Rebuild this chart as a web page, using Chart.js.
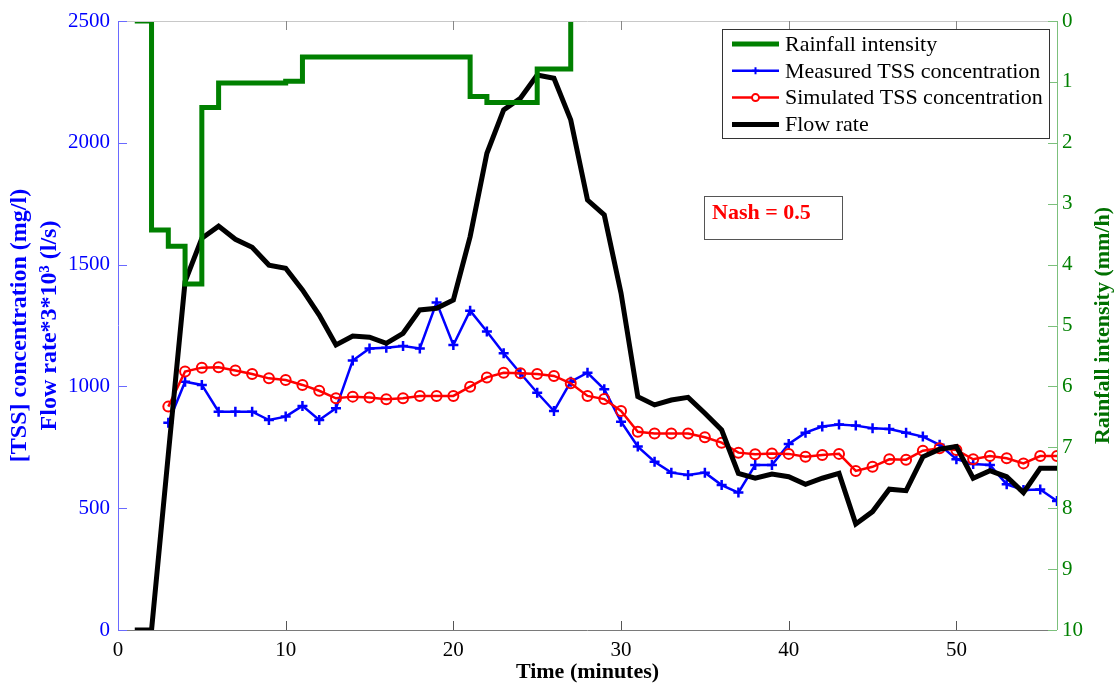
<!DOCTYPE html>
<html>
<head>
<meta charset="utf-8">
<script src="https://cdn.jsdelivr.net/npm/chart.js@4.4.1/dist/chart.umd.min.js"></script>
<style>
  html, body { margin: 0; padding: 0; background: #fff; }
  #wrap { width: 1119px; height: 689px; position: relative; }
</style>
</head>
<body>
<div id="wrap"><canvas id="tssChart"></canvas></div>
<script>
// Rainfall intensity (mm/h), one value per minute from minute 1
const rainStart = 1;
const rainfall = [0, 3.43, 3.7, 4.32, 1.42, 1.02, 1.02, 1.02, 1.02, 0.99,
  0.59, 0.59, 0.59, 0.59, 0.59, 0.59, 0.59, 0.59, 0.59, 0.59,
  1.24, 1.34, 1.34, 1.34, 0.79, 0.79, 0];

// Flow rate (scaled by 3*10^3), one value per minute from minute 1
const flowStart = 1;
const flowRate = [0, 0, 720, 1430, 1608, 1658, 1604, 1571, 1498, 1485,
  1396, 1293, 1170, 1207, 1202, 1177, 1218, 1314, 1321, 1355,
  1615, 1957, 2135, 2183, 2278, 2265, 2094, 1765, 1704, 1383,
  958, 924, 944, 955, 890, 821, 643, 623, 640, 629,
  598, 623, 643, 435, 486, 578, 572, 711, 742, 753,
  623, 654, 629, 564, 664, 664];

// TSS concentrations (mg/l), one value per minute from minute 3
const tssStart = 3;
const measuredTss = [851, 1019, 1006, 896, 896, 896, 862, 876, 920, 862,
  910, 1106, 1156, 1159, 1166, 1156, 1344, 1170, 1311, 1225,
  1136, 1054, 974, 899, 1019, 1056, 988, 855, 753, 691,
  646, 636, 646, 595, 564, 677, 677, 764, 810, 835,
  844, 839, 828, 825, 810, 794, 760, 701, 681, 677,
  598, 575, 577, 530];
const simulatedTss = [917, 1061, 1077, 1079, 1065, 1051, 1033, 1026, 1006, 982,
  951, 958, 954, 947, 951, 961, 961, 961, 999, 1037,
  1056, 1054, 1051, 1043, 1013, 961, 948, 899, 814, 807,
  807, 807, 791, 769, 728, 721, 725, 723, 711, 718,
  723, 653, 670, 701, 699, 736, 746, 739, 701, 714,
  705, 684, 714, 714];

const nashValue = 0.5;

const serif = "'Liberation Serif', 'Times New Roman', serif";
Chart.defaults.font.family = serif;

function toPoints(values, start) {
  return values.map((v, i) => ({ x: start + i, y: v }));
}

const plainNumber = v => String(v);

// Axis box with inward tick marks, custom legend, Nash label, right axis title
const framePlugin = {
  id: 'frame',
  afterDraw(chart) {
    const ctx = chart.ctx;
    const area = chart.chartArea;
    const xs = chart.scales.x;
    const yl = chart.scales.yTss;
    const yr = chart.scales.yRain;
    const tick = 9;

    ctx.save();
    ctx.lineWidth = 1;

    // top and bottom borders
    ctx.strokeStyle = '#c8c8c8';
    ctx.beginPath();
    ctx.moveTo(area.left, area.top + 0.5);
    ctx.lineTo(area.right, area.top + 0.5);
    ctx.stroke();
    ctx.strokeStyle = '#7a7a7a';
    ctx.beginPath();
    ctx.moveTo(area.left, area.bottom + 0.5);
    ctx.lineTo(area.right, area.bottom + 0.5);
    ctx.stroke();

    // x ticks, bottom and top
    xs.ticks.forEach(t => {
      const px = Math.round(xs.getPixelForValue(t.value)) + 0.5;
      ctx.strokeStyle = '#555';
      ctx.beginPath();
      ctx.moveTo(px, area.bottom);
      ctx.lineTo(px, area.bottom - tick);
      ctx.stroke();
      ctx.strokeStyle = '#888';
      ctx.beginPath();
      ctx.moveTo(px, area.top);
      ctx.lineTo(px, area.top + tick);
      ctx.stroke();
    });

    // left axis (blue)
    ctx.strokeStyle = '#6a6aff';
    ctx.beginPath();
    ctx.moveTo(area.left + 0.5, area.top);
    ctx.lineTo(area.left + 0.5, area.bottom);
    ctx.stroke();
    yl.ticks.forEach(t => {
      const py = Math.round(yl.getPixelForValue(t.value)) + 0.5;
      ctx.beginPath();
      ctx.moveTo(area.left, py);
      ctx.lineTo(area.left + tick, py);
      ctx.stroke();
    });

    // right axis (green)
    ctx.strokeStyle = '#7cc07c';
    ctx.beginPath();
    ctx.moveTo(area.right + 0.5, area.top);
    ctx.lineTo(area.right + 0.5, area.bottom);
    ctx.stroke();
    yr.ticks.forEach(t => {
      const py = Math.round(yr.getPixelForValue(t.value)) + 0.5;
      ctx.beginPath();
      ctx.moveTo(area.right, py);
      ctx.lineTo(area.right - tick, py);
      ctx.stroke();
    });

    // right axis title, reading bottom to top
    ctx.save();
    ctx.translate(1103, (area.top + area.bottom) / 2);
    ctx.rotate(-Math.PI / 2);
    ctx.fillStyle = '#007000';
    ctx.font = 'bold 22px ' + serif;
    ctx.textAlign = 'center';
    ctx.textBaseline = 'middle';
    ctx.fillText('Rainfall intensity (mm/h)', 0, 0);
    ctx.restore();

    // legend
    const lx = 722, ly = 29, lw = 327, lh = 109;
    ctx.fillStyle = '#fff';
    ctx.fillRect(lx, ly, lw, lh);
    ctx.strokeStyle = '#333';
    ctx.strokeRect(lx + 0.5, ly + 0.5, lw, lh);
    ctx.font = '22px ' + serif;
    ctx.textAlign = 'left';
    ctx.textBaseline = 'middle';
    chart.data.datasets.forEach((ds, i) => {
      const cy = 44 + i * 26.8;
      ctx.strokeStyle = ds.borderColor;
      ctx.lineWidth = ds.borderWidth;
      ctx.beginPath();
      ctx.moveTo(732, cy);
      ctx.lineTo(779, cy);
      ctx.stroke();
      if (ds.pointStyle && ds.pointRadius > 0) {
        ctx.lineWidth = 2;
        ctx.fillStyle = '#fff';
        Chart.helpers.drawPoint(ctx, {
          pointStyle: ds.pointStyle, radius: 3.5, borderWidth: 2, rotation: 0
        }, 755.5, cy);
      }
      ctx.fillStyle = '#000';
      ctx.fillText(ds.label, 785, cy + 1);
    });

    // Nash coefficient box
    ctx.lineWidth = 1;
    ctx.strokeStyle = '#555';
    ctx.strokeRect(704.5, 196.5, 138, 43);
    ctx.fillStyle = '#ff0000';
    ctx.font = 'bold 22px ' + serif;
    ctx.fillText('Nash = ' + nashValue, 712, 213);

    ctx.restore();
  }
};

const ctx = document.getElementById('tssChart').getContext('2d');

new Chart(ctx, {
  type: 'line',
  data: {
    datasets: [
      {
        label: 'Rainfall intensity',
        data: toPoints(rainfall, rainStart),
        yAxisID: 'yRain',
        borderColor: '#008000',
        borderWidth: 5,
        stepped: 'before',
        pointRadius: 0,
        order: 0
      },
      {
        label: 'Measured TSS concentration',
        data: toPoints(measuredTss, tssStart),
        yAxisID: 'yTss',
        borderColor: '#0000ff',
        borderWidth: 2.5,
        pointStyle: 'cross',
        pointRadius: 5,
        pointBorderWidth: 2.5,
        pointBorderColor: '#0000ff',
        order: 3
      },
      {
        label: 'Simulated TSS concentration',
        data: toPoints(simulatedTss, tssStart),
        yAxisID: 'yTss',
        borderColor: '#ff0000',
        borderWidth: 2.5,
        pointStyle: 'circle',
        pointRadius: 5,
        pointBorderWidth: 2,
        pointBorderColor: '#ff0000',
        pointBackgroundColor: 'rgba(0,0,0,0)',
        order: 2
      },
      {
        label: 'Flow rate',
        data: toPoints(flowRate, flowStart),
        yAxisID: 'yTss',
        borderColor: '#000000',
        borderWidth: 5,
        pointRadius: 0,
        order: 1
      }
    ]
  },
  options: {
    responsive: true,
    maintainAspectRatio: false,
    animation: false,
    layout: { padding: { top: 21, left: 0, right: 0, bottom: 0 } },
    elements: { line: { tension: 0, fill: false } },
    plugins: {
      legend: { display: false },
      tooltip: { enabled: false }
    },
    scales: {
      x: {
        type: 'linear',
        min: 0,
        max: 56,
        grid: { display: false, drawTicks: false },
        border: { display: false },
        ticks: {
          stepSize: 10,
          includeBounds: false,
          color: '#000',
          padding: 8,
          font: { size: 21 },
          callback: plainNumber
        },
        title: {
          display: true,
          text: 'Time (minutes)',
          color: '#000',
          font: { size: 22, weight: 'bold' },
          padding: { top: 0, bottom: 3 }
        },
        afterFit(scale) { scale.height = 59; }
      },
      yTss: {
        type: 'linear',
        position: 'left',
        min: 0,
        max: 2500,
        grid: { display: false, drawTicks: false },
        border: { display: false },
        ticks: {
          stepSize: 500,
          color: '#0000ff',
          padding: 8,
          font: { size: 21 },
          callback: plainNumber
        },
        title: {
          display: true,
          text: ['[TSS] concentration (mg/l)', 'Flow rate*3*10\u00b3 (l/s)'],
          color: '#0000ff',
          font: { size: 24, weight: 'bold', lineHeight: '30px' },
          padding: { top: 5, bottom: 0 }
        },
        afterFit(scale) { scale.width = 118; }
      },
      yRain: {
        type: 'linear',
        position: 'right',
        min: 0,
        max: 10,
        reverse: true,
        grid: { display: false, drawTicks: false },
        border: { display: false },
        ticks: {
          stepSize: 1,
          color: '#008000',
          padding: 5,
          font: { size: 21 },
          callback: plainNumber
        },
        afterFit(scale) { scale.width = 62; }
      }
    }
  },
  plugins: [framePlugin]
});
</script>
</body>
</html>
